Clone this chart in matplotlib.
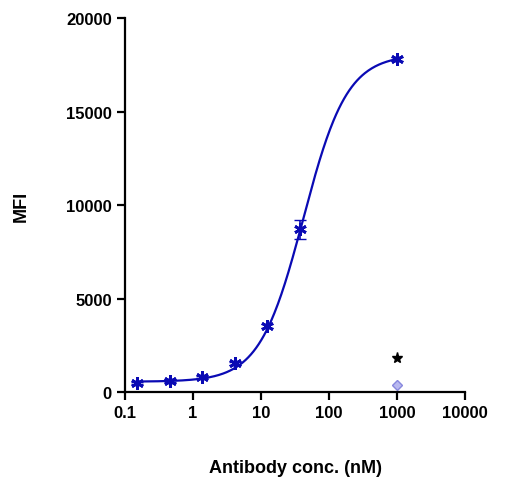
import matplotlib
matplotlib.use("Agg")
import matplotlib.pyplot as plt
import numpy as np

# data
conc = [0.152, 0.457, 1.37, 4.12, 12.3, 37.0, 1000.0]
mfi = [500, 620, 800, 1550, 3550, 8700, 17800]
mfi_err = [60, 60, 60, 80, 120, 500, 100]

ctrl1_x, ctrl1_y = [1000.0], [1850]   # black star
ctrl2_x, ctrl2_y = [1000.0], [400]    # light diamond

# 4PL fit parameters (estimated)
bottom, top, ec50, hill = 560, 18050, 42.0, 1.35

blue = "#0a0ab4"
plt.rcParams["font.family"] = ["Liberation Sans", "DejaVu Sans"]
plt.rcParams["font.weight"] = "bold"

fig = plt.figure(figsize=(5.1, 4.89), dpi=100)
ax = fig.add_axes([0.245, 0.196, 0.667, 0.765])

xs = np.logspace(np.log10(0.15), np.log10(1000), 300)
ax.plot(xs, bottom + (top - bottom) / (1 + (ec50 / xs) ** hill), color=blue, lw=1.6)
ax.errorbar(conc, mfi, yerr=mfi_err, fmt="none", ecolor=blue, elinewidth=1.2, capsize=4)
ax.plot(conc, mfi, ls="none", marker=(6, 2, 0), ms=9, mew=2, color=blue)
ax.plot(ctrl1_x, ctrl1_y, ls="none", marker="*", ms=8, color="black")
ax.plot(ctrl2_x, ctrl2_y, ls="none", marker="D", ms=5, mfc="#b8b8f0", mec="#8888dd")

ax.set_xscale("log")
ax.set_xlim(0.1, 10000)
ax.set_ylim(0, 20000)
ax.set_xticks([0.1, 1, 10, 100, 1000, 10000])
ax.set_xticklabels(["0.1", "1", "10", "100", "1000", "10000"])
ax.xaxis.set_minor_locator(matplotlib.ticker.NullLocator())
ax.set_yticks([0, 5000, 10000, 15000, 20000])
for s in ("top", "right"):
    ax.spines[s].set_visible(False)
for s in ("left", "bottom"):
    ax.spines[s].set_linewidth(1.6)
ax.tick_params(width=1.6, length=6, labelsize=12)
ax.set_xlabel("Antibody conc. (nM)", fontsize=13, fontweight="bold", labelpad=28)
ax.set_ylabel("MFI", fontsize=13, fontweight="bold", labelpad=26)

fig.savefig("out.png", dpi=100)
